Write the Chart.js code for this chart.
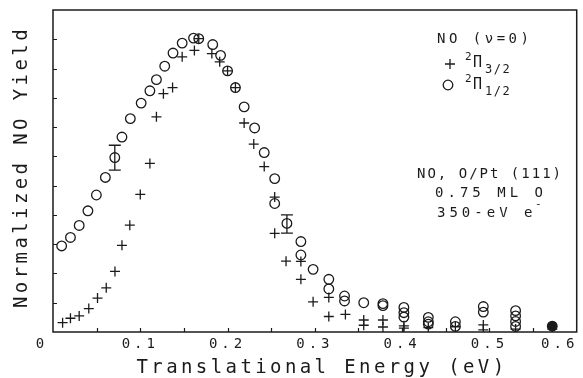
<!DOCTYPE html>
<html>
<head>
<meta charset="utf-8">
<script src="https://cdn.jsdelivr.net/npm/chart.js@4/dist/chart.umd.min.js"></script>
<style>
  html, body { margin: 0; padding: 0; background: #fff; }
  #wrap { position: relative; width: 583px; height: 378px; }
</style>
</head>
<body>
<div id="wrap"><canvas id="tof"></canvas></div>
<script>
'use strict';

// ── Data: NO (v=0) yield vs translational energy ─────────────
// 2Π3/2 spin-orbit state (crosses)
const pi32Energy = [
  0.011, 0.020, 0.030, 0.041, 0.051, 0.061, 0.071, 0.079, 0.088, 0.100,
  0.111, 0.1185, 0.1265, 0.137, 0.148, 0.162, 0.167, 0.182, 0.191, 0.200,
  0.209, 0.219, 0.230, 0.242, 0.254, 0.254, 0.267, 0.284, 0.284, 0.298,
  0.316, 0.316, 0.335, 0.356, 0.356, 0.378, 0.378, 0.402, 0.402, 0.430,
  0.461, 0.493, 0.493, 0.530, 0.572
];
const pi32Yield = [
  0.32, 0.47, 0.55, 0.80, 1.16, 1.51, 2.07, 2.96, 3.65, 4.70,
  5.76, 7.35, 8.14, 8.35, 9.40, 9.62, 10.02, 9.51, 9.23, 8.92,
  8.35, 7.14, 6.42, 5.65, 4.61, 3.37, 2.42, 2.41, 1.80, 1.03,
  1.18, 0.53, 0.60, 0.41, 0.23, 0.41, 0.17, 0.21, 0.13, 0.15,
  0.18, 0.24, 0.07, 0.10, 0.10
];

// 2Π1/2 spin-orbit state (circles)
const pi12Energy = [
  0.0099, 0.020, 0.030, 0.040, 0.0497, 0.060, 0.0708, 0.079, 0.0886, 0.101,
  0.111, 0.1185, 0.128, 0.1375, 0.148, 0.161, 0.167, 0.183, 0.192, 0.200,
  0.209, 0.219, 0.231, 0.242, 0.254, 0.254, 0.268, 0.284, 0.284, 0.298,
  0.316, 0.316, 0.334, 0.334, 0.356, 0.378, 0.378, 0.402, 0.402, 0.402,
  0.430, 0.430, 0.430, 0.461, 0.461, 0.493, 0.493, 0.530, 0.530, 0.530,
  0.530, 0.572
];
const pi12Yield = [
  2.94, 3.23, 3.64, 4.14, 4.68, 5.28, 5.96, 6.66, 7.29, 7.82,
  8.24, 8.62, 9.08, 9.53, 9.87, 10.04, 10.02, 9.82, 9.45, 8.92,
  8.35, 7.69, 6.97, 6.13, 5.24, 4.39, 3.71, 3.09, 2.63, 2.14,
  1.80, 1.47, 1.23, 1.06, 1.00, 0.97, 0.90, 0.84, 0.66, 0.51,
  0.50, 0.35, 0.27, 0.35, 0.19, 0.87, 0.68, 0.73, 0.55, 0.36,
  0.19, 0.20
];

// Representative error bars on the 2Π1/2 curve
const errEnergy = [0.0708, 0.268];
const errLow    = [5.53, 3.38];
const errHigh   = [6.38, 4.00];

// Axis ticks
const xTickLabels = [0, 0.1, 0.2, 0.3, 0.4, 0.5, 0.6];
const xMinorTicks = [0.05, 0.1, 0.15, 0.2, 0.25, 0.3, 0.35, 0.4, 0.45, 0.5, 0.55];
const yMinorTicks = [1, 2, 3, 4, 5, 6, 7, 8, 9, 10];

const INK  = '#1b1b1b';
const MONO = '"DejaVu Sans Mono", "Liberation Mono", monospace';

const toPoints = (xs, ys) => xs.map((x, i) => ({ x, y: ys[i] }));

function drawText(ctx, str, x, y, size, spacing, align = 'left') {
  ctx.font = `${size}px ${MONO}`;
  ctx.letterSpacing = `${spacing}px`;
  ctx.textAlign = align;
  ctx.textBaseline = 'alphabetic';
  ctx.fillText(str, x, y);
}

// ── Frame, inward ticks, labels, error bars, annotations ─────
const plotterFrame = {
  id: 'plotterFrame',
  afterDatasetsDraw(chart) {
    const { ctx, chartArea: a, scales: { x, y } } = chart;
    ctx.save();
    ctx.strokeStyle = INK;
    ctx.fillStyle = INK;

    // box
    ctx.lineWidth = 1.5;
    ctx.strokeRect(a.left, a.top, a.right - a.left, a.bottom - a.top);

    // inward ticks
    ctx.lineWidth = 1.2;
    ctx.beginPath();
    xMinorTicks.forEach(v => {
      const px = Math.round(x.getPixelForValue(v)) + 0.5;
      ctx.moveTo(px, a.bottom);
      ctx.lineTo(px, a.bottom - 4);
    });
    yMinorTicks.forEach(v => {
      const py = Math.round(y.getPixelForValue(v)) + 0.5;
      ctx.moveTo(a.left, py);
      ctx.lineTo(a.left + 4, py);
    });
    ctx.stroke();

    // error bars
    ctx.lineWidth = 1.3;
    ctx.beginPath();
    errEnergy.forEach((e, i) => {
      const px = x.getPixelForValue(e);
      const lo = y.getPixelForValue(errLow[i]);
      const hi = y.getPixelForValue(errHigh[i]);
      ctx.moveTo(px, lo); ctx.lineTo(px, hi);
      ctx.moveTo(px - 6, lo); ctx.lineTo(px + 6, lo);
      ctx.moveTo(px - 6, hi); ctx.lineTo(px + 6, hi);
    });
    ctx.stroke();

    // x tick labels ("0" and "0.6" sit pulled in from the ends)
    xTickLabels.forEach(v => {
      let px = x.getPixelForValue(v);
      if (v === 0) px -= 11;
      if (v === 0.6) px -= 17;
      drawText(ctx, v === 0 ? '0' : v.toFixed(1), px, 348, 14, 4, 'center');
    });

    // axis titles
    drawText(ctx, 'Translational Energy (eV)', 322, 373, 19, 3.4, 'center');
    ctx.save();
    ctx.translate(27, 167);
    ctx.rotate(-Math.PI / 2);
    drawText(ctx, 'Normalized NO Yield', 0, 0, 19, 3.4, 'center');
    ctx.restore();

    // legend
    drawText(ctx, 'NO (ν=0)', 437, 43, 14, 3.5);
    ctx.lineWidth = 1.3;
    ctx.beginPath();
    ctx.moveTo(445, 64); ctx.lineTo(455, 64);
    ctx.moveTo(450, 59); ctx.lineTo(450, 69);
    ctx.stroke();
    ctx.beginPath();
    ctx.arc(448, 85, 4.8, 0, Math.PI * 2);
    ctx.stroke();

    drawText(ctx, '2', 465, 60, 11, 0);
    drawText(ctx, 'Π', 473, 67, 15, 0);
    drawText(ctx, '3/2', 485, 73, 12, 1.5);
    drawText(ctx, '2', 465, 82, 11, 0);
    drawText(ctx, 'Π', 473, 89, 15, 0);
    drawText(ctx, '1/2', 485, 95, 12, 1.5);

    // sample / conditions
    drawText(ctx, 'NO, O/Pt (111)', 490, 178, 14, 2, 'center');
    drawText(ctx, '0.75 ML O', 491, 197, 14, 4, 'center');
    drawText(ctx, '350-eV e', 437, 217, 14, 4);
    drawText(ctx, '-', 535, 207, 11, 0);

    ctx.restore();
  }
};

new Chart(document.getElementById('tof').getContext('2d'), {
  type: 'scatter',
  data: {
    datasets: [
      {
        label: '2Π3/2',
        data: toPoints(pi32Energy, pi32Yield),
        pointStyle: 'cross',
        pointRadius: 5,
        pointBorderWidth: 1.3,
        borderColor: INK,
        backgroundColor: INK
      },
      {
        label: '2Π1/2',
        data: toPoints(pi12Energy, pi12Yield),
        pointStyle: 'circle',
        pointRadius: 4.8,
        pointBorderWidth: 1.3,
        borderColor: INK,
        // highest-energy bin is drawn as a solid dot
        pointBackgroundColor: ctx => ctx.dataIndex === pi12Energy.length - 1 ? INK : 'rgba(0,0,0,0)'
      }
    ]
  },
  options: {
    responsive: true, maintainAspectRatio: false,
    animation: false,
    layout: { padding: { left: 53, top: 10, right: 2, bottom: 46 } },
    plugins: { legend: { display: false }, tooltip: { enabled: false } },
    scales: {
      x: { type: 'linear', min: 0, max: 0.6, display: false },
      y: { type: 'linear', min: 0, max: 11, display: false }
    }
  },
  plugins: [plotterFrame]
});
</script>
</body>
</html>
